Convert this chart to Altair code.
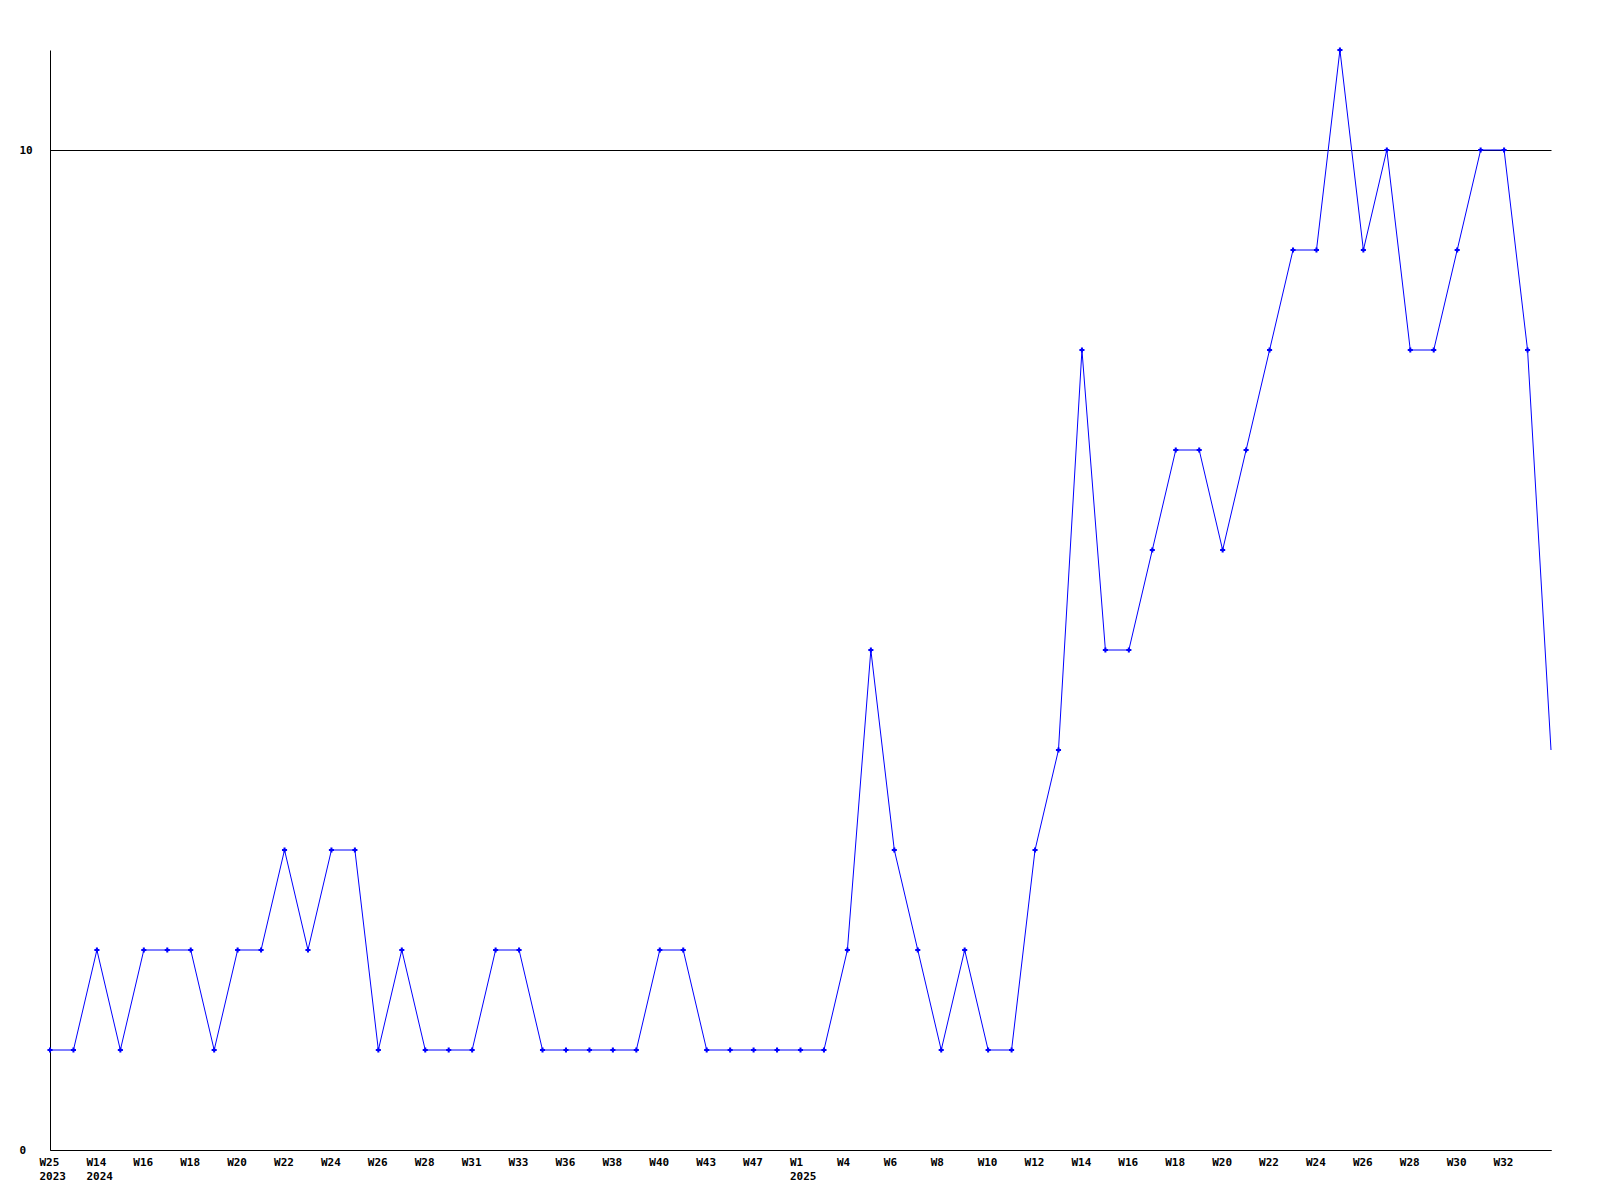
import altair as alt
import pandas as pd

years = [2023] + [2024] * 31 + [2025] * 33
weeks = [25, 13, 14, 15, 16, 17, 18, 19, 20, 21, 22, 23, 24, 25, 26, 27, 28, 30, 31, 32,
         33, 35, 36, 37, 38, 39, 40, 41, 43, 45, 47, 50,
         1, 2, 4, 5, 6, 7, 8, 9, 10, 11, 12, 13, 14, 15, 16, 17, 18, 19, 20, 21, 22, 23,
         24, 25, 26, 27, 28, 29, 30, 31, 32, 33, 34]
values = [1, 1, 2, 1, 2, 2, 2, 1, 2, 2, 3, 2, 3, 3, 1, 2, 1, 1, 1, 2,
          2, 1, 1, 1, 1, 1, 2, 2, 1, 1, 1, 1,
          1, 1, 2, 5, 3, 2, 1, 2, 1, 1, 3, 4, 8, 5, 5, 6, 7, 7, 6, 7, 8, 9,
          9, 11, 9, 10, 8, 8, 9, 10, 10, 8, 4]

keys = [f"{y}-W{w}" for y, w in zip(years, weeks)]
df = pd.DataFrame({"key": keys, "value": values, "idx": list(range(len(keys)))})

tick_keys = keys[0:64:2]
year_start = []
seen = set()
for k in tick_keys:
    y = k.split("-")[0]
    if y not in seen:
        seen.add(y)
        year_start.append(k)

ys_list = "[" + ",".join(f"'{k}'" for k in year_start) + "]"
label_expr = (f"indexof({ys_list}, datum.value) >= 0 ? "
              "[split(datum.value,'-')[1], split(datum.value,'-')[0]] : split(datum.value,'-')[1]")

FONT = "DejaVu Sans Mono"
BLUE = "#0000ff"

x_enc = alt.X("key:O", sort=keys,
              scale=alt.Scale(type="point", padding=0),
              axis=alt.Axis(values=tick_keys, labelExpr=label_expr, title=None,
                            labelAngle=0, labelAlign="left", labelOffset=-11,
                            labelBaseline="top", labelPadding=6, ticks=False, tickSize=0,
                            labelFont=FONT, labelFontSize=11, labelFontWeight="bold",
                            labelColor="black", labelLineHeight=14, grid=False,
                            domainColor="black", domainWidth=1, labelOverlap=False))
y_enc = alt.Y("value:Q", scale=alt.Scale(domain=[0, 11], nice=False, zero=True),
              axis=alt.Axis(values=[0, 10], format="d", title=None, ticks=False, tickSize=0,
                            labelAlign="left", labelPadding=31, labelBaseline="middle",
                            labelFont=FONT, labelFontSize=11, labelFontWeight="bold",
                            labelColor="black", grid=True, gridColor="black",
                            gridWidth=1, gridOpacity=1, domainColor="black",
                            domainWidth=1))

line = alt.Chart(df).mark_line(color=BLUE, strokeWidth=1).encode(x=x_enc, y=y_enc)
pts = alt.Chart(df).transform_filter(f"datum.idx < {len(keys) - 1}").mark_point(
    shape="cross", filled=True, color=BLUE, size=26, opacity=1).encode(
    x=alt.X("key:O", sort=keys), y="value:Q")

chart = alt.layer(line, pts).properties(
    width=1501, height=1100,
    background="white",
    autosize=alt.AutoSizeParams(type="none"),
    padding={"left": 42, "top": 42, "right": 30, "bottom": 50},
).configure_view(stroke=None)

chart.save("out.html", embed_options={"renderer": "svg", "actions": False})
